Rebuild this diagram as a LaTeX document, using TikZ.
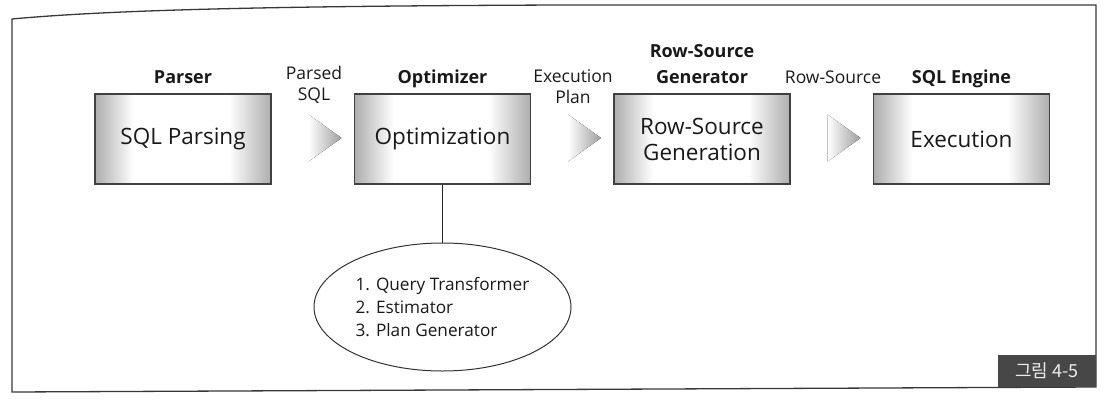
\documentclass[tikz,border=0pt]{standalone}
\usepackage{fontspec}
\setmainfont{Open Sans}
\newfontfamily\krfont{Noto Sans CJK KR}
\usetikzlibrary{calc,shapes.geometric}
\definecolor{bgray}{gray}{0.68}
\definecolor{framecol}{gray}{0.22}
\pgfdeclarehorizontalshading{boxshade}{100bp}{color(0bp)=(bgray); color(25bp)=(bgray); color(36bp)=(white); color(63bp)=(white); color(75bp)=(bgray); color(100bp)=(bgray)}
\tikzset{
  stage/.style={draw=black!75, line width=1.1pt, shading=boxshade,
    minimum width=176pt, minimum height=90pt, inner sep=0pt,
    font=\fontsize{22.5}{26}\selectfont, align=center, text=black!90},
  role/.style={font=\bfseries\fontsize{18}{26}\selectfont, align=center, text=black!90},
  flow/.style={font=\fontsize{17.5}{21}\selectfont, align=center, text=black!90},
  arrowfill/.style={left color=white, right color=black!38, draw=none},
  plan/.style={draw=black!80, line width=1pt, ellipse, minimum width=257pt,
    minimum height=128pt, inner sep=0pt, align=left,
    font=\fontsize{17.2}{23}\selectfont, text=black!90},
  figlabel/.style={fill=black!72, text=black!8, minimum width=98pt,
    minimum height=32pt, inner sep=0pt, font=\krfont\fontsize{18}{20}\selectfont}
}
\begin{document}
\begin{tikzpicture}[x=1pt,y=-1pt]
\useasboundingbox (0,0) rectangle (1106,402);
% frame
\draw[framecol, line width=1.3pt] (12,19) .. controls (120,9) and (300,6) .. (560,5)
  -- (1096,5) -- (1096,387) -- (12,392) -- cycle;
% stages
\node[stage] (p) at (183,139) {SQL Parsing};
\node[stage] (o) at (442.5,139) {Optimization};
\node[stage] (r) at (702,139) {Row-Source\\Generation};
\node[stage] (e) at (961.5,139) {Execution};
% roles
\node[role, anchor=base] (lp) at (183,83) {Parser};
\node[role, anchor=base] (lo) at (442.5,83) {Optimizer};
\node[role] (lr) at (702,64) {Row-Source\\Generator};
\node[role, anchor=base] (le) at (961.5,83) {SQL Engine};
% flow labels
\node[flow] (f1) at (314,84.5) {Parsed\\SQL};
\node[flow] (f2) at (573,86.5) {Execution\\Plan};
\node[flow, anchor=base] (f3) at (833,83) {Row-Source};
% arrows
\foreach \a/\b in {p/o, o/r, r/e}{
  \fill[arrowfill] ($(\a.east)+(37,-24.5)$) -- ($(\a.east)+(70,-1)$) -- ($(\a.east)+(37,22.5)$) -- cycle;
}
% optimizer components
\node[plan] (est) at (442.5,307) {1. Query Transformer\\2. Estimator\\3. Plan Generator};
\draw[black!85, line width=1.1pt] (o.south) -- (est.north);
% figure label
\node[figlabel] (fig) at (1047,370.5) {그림 4-5};
\end{tikzpicture}
\end{document}
